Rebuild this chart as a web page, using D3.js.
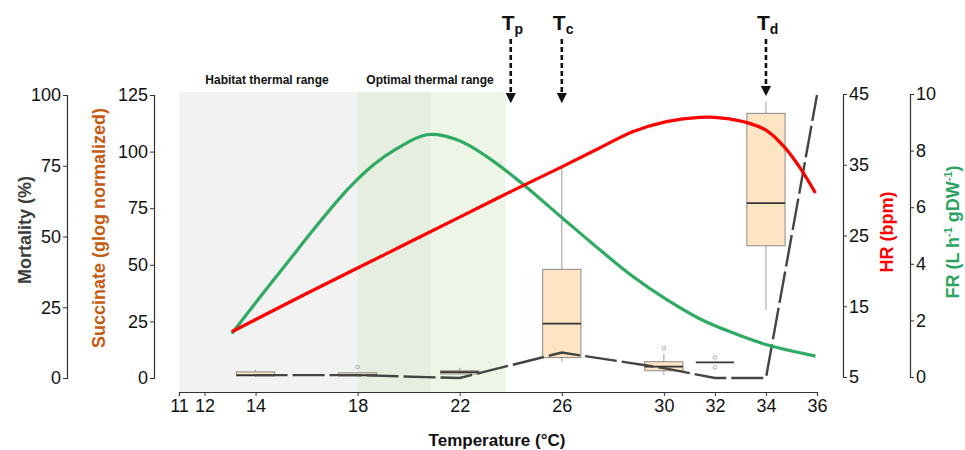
<!DOCTYPE html>
<html><head><meta charset="utf-8">
<script src="https://cdn.jsdelivr.net/npm/d3@7"></script>
<style>body{margin:0;background:#fff}svg{display:block;font-family:"Liberation Sans",Arial,sans-serif}</style>
</head><body>
<svg id="c" width="965" height="450"></svg>
<script>
// ---- data ----
const xTicks = [11,12,14,18,22,26,30,32,34,36];
const mortTicks = [0,25,50,75,100];
const succTicks = [0,25,50,75,100,125];
const hrTicks = [5,15,25,35,45];
const frTicks = [0,2,4,6,8,10];

const hrTemps = [13.07,16,19,22,24,26,27.5,28.8,30.1,31.4,32.3,33.26,34.04,34.7,35.35,35.94];
const hrValues = [11.4,16.8,22.2,27.6,31.2,34.7,37.4,39.7,41.1,41.7,41.6,40.95,39.8,37.6,34.5,31.0];

const frTemps = [13.07,14.2,15.22,16.4,17.6,18.6,19.5,20.71,21.9,23.06,24.36,26.02,27.5,28.8,30.1,31.4,32.7,34.06,35.94];
const frValues = [1.54,2.85,4.01,5.35,6.62,7.48,8.05,8.56,8.38,7.79,6.9,5.62,4.49,3.54,2.74,2.06,1.56,1.13,0.74];

const mortTemps = [14,18,22,26,30,32,34,36];
const mortValues = [1,1,0,9,3.5,0,0,100];

const boxTemps = [14,18,22,26,30,32,34];
const boxMin = [0.5,0.5,1.5,7.2,1.3,6.9,30];
const boxQ1  = [0.9,0.9,1.8,9.0,3.2,6.9,58.4];
const boxMed = [1.3,1.3,2.6,24,5.0,6.9,77.2];
const boxQ3  = [2.7,2.3,3.2,48,7.2,6.9,116.9];
const boxMax = [3.6,2.5,4.5,92.8,10.6,6.9,122];
const outlierTemps = [18,30,32,32];
const outlierValues = [4.9,13.1,9.1,4.7];

const habitatRange = [11,20.85];
const optimalRange = [18,23.8];
const markerTemps = [24,26,34];
const markerSubs = ["p","c","d"];

// ---- scales ----
const svg = d3.select("#c");
const x = d3.scaleLinear().domain([11,36]).range([179,817]);
const yMort = d3.scaleLinear().domain([0,100]).range([378,95]);
const ySucc = d3.scaleLinear().domain([0,125]).range([378,95]);
const yHR = d3.scaleLinear().domain([5,45]).range([377,94]);
const yFR = d3.scaleLinear().domain([0,10]).range([377,94]);
const bandTop = 92, axisY = 392;

// bands
svg.append("rect").attr("x",x(habitatRange[0])).attr("y",bandTop)
  .attr("width",x(habitatRange[1])-x(habitatRange[0])).attr("height",axisY-bandTop).attr("fill","#f2f2f2");
svg.append("rect").attr("x",x(optimalRange[0])).attr("y",bandTop)
  .attr("width",x(optimalRange[1])-x(optimalRange[0])).attr("height",axisY-bandTop).attr("fill","#d8ebc8").attr("opacity",0.45);

svg.append("text").attr("x",267).attr("y",84).attr("text-anchor","middle")
  .attr("font-size",12).attr("font-weight","bold").attr("fill","#111").text("Habitat thermal range");
svg.append("text").attr("x",430).attr("y",84).attr("text-anchor","middle")
  .attr("font-size",12).attr("font-weight","bold").attr("fill","#111").text("Optimal thermal range");

// axes
function styleAxis(g){
  g.selectAll("path.domain").attr("stroke","#333").attr("stroke-width",1.2);
  g.selectAll(".tick line").attr("stroke","#333");
  g.selectAll(".tick text").attr("font-size",18).attr("fill","#111").attr("font-family","'Liberation Sans',Arial,sans-serif");
}
svg.append("g").attr("transform","translate(0,"+axisY+")")
  .call(d3.axisBottom(x).tickValues(xTicks).tickSize(4).tickSizeOuter(4).tickPadding(3).tickFormat(d3.format("d")))
  .call(styleAxis);
svg.append("g").attr("transform","translate(67,0)")
  .call(d3.axisLeft(yMort).tickValues(mortTicks).tickSize(4).tickSizeOuter(4).tickPadding(2))
  .call(styleAxis);
svg.append("g").attr("transform","translate(154,0)")
  .call(d3.axisLeft(ySucc).tickValues(succTicks).tickSize(4).tickSizeOuter(4).tickPadding(2))
  .call(styleAxis);
svg.append("g").attr("transform","translate(843,0)")
  .call(d3.axisRight(yHR).tickValues(hrTicks).tickSize(4).tickSizeOuter(4).tickPadding(2))
  .call(styleAxis);
svg.append("g").attr("transform","translate(910,0)")
  .call(d3.axisRight(yFR).tickValues(frTicks).tickSize(4).tickSizeOuter(4).tickPadding(2))
  .call(styleAxis);

// axis titles
function vTitle(xp, yp, color){
  return svg.append("text").attr("transform","translate("+xp+","+yp+") rotate(-90)")
    .attr("text-anchor","middle").attr("font-size",18).attr("font-weight","bold").attr("fill",color);
}
vTitle(31,230,"#3b3b3b").text("Mortality (%)");
vTitle(105,228,"#c55a11").text("Succinate (glog normalized)");
vTitle(893,232,"#ff0000").text("HR (bpm)");
const fr = vTitle(959,232,"#2aa45e");
fr.append("tspan").text("FR (L h");
fr.append("tspan").attr("font-size",11).attr("dy",-7).text("-1");
fr.append("tspan").attr("dy",7).text(" gDW");
fr.append("tspan").attr("font-size",11).attr("dy",-7).text("-1");
fr.append("tspan").attr("dy",7).text(")");
svg.append("text").attr("x",497).attr("y",446).attr("text-anchor","middle")
  .attr("font-size",17).attr("font-weight","bold").attr("fill","#111").text("Temperature (°C)");

// boxplots
const bw = 0.75;
boxTemps.forEach((t,i)=>{
  const g = svg.append("g");
  g.append("line").attr("x1",x(t)).attr("x2",x(t)).attr("y1",ySucc(boxMin[i])).attr("y2",ySucc(boxMax[i]))
    .attr("stroke","#9a9a9a").attr("stroke-width",1);
  const top = ySucc(boxQ3[i]), bot = ySucc(boxQ1[i]);
  if (boxQ3[i] > boxQ1[i]) {
    g.append("rect").attr("x",x(t-bw)).attr("y",top).attr("width",x(t+bw)-x(t-bw)).attr("height",Math.max(bot-top,1))
      .attr("fill","#fde4c2").attr("stroke","#8a8a8a").attr("stroke-width",1);
  }
  g.append("line").attr("x1",x(t-bw)).attr("x2",x(t+bw)).attr("y1",ySucc(boxMed[i])).attr("y2",ySucc(boxMed[i]))
    .attr("stroke","#333").attr("stroke-width",1.8);
});
outlierTemps.forEach((t,i)=>{
  svg.append("circle").attr("cx",x(t)).attr("cy",ySucc(outlierValues[i])).attr("r",1.8)
    .attr("fill","none").attr("stroke","#aaa").attr("stroke-width",1);
});

// mortality line
svg.append("path").datum(mortTemps.map((t,i)=>[t,mortValues[i]]))
  .attr("d",d3.line().x(d=>x(d[0])).y(d=>yMort(d[1])))
  .attr("fill","none").attr("stroke","#444").attr("stroke-width",2.4).attr("stroke-dasharray","32,5");

// FR line
svg.append("path").datum(frTemps.map((t,i)=>[t,frValues[i]]))
  .attr("d",d3.line().curve(d3.curveCatmullRom.alpha(0.5)).x(d=>x(d[0])).y(d=>yFR(d[1])))
  .attr("fill","none").attr("stroke","#2faa62").attr("stroke-width",3.2);
// HR line
svg.append("path").datum(hrTemps.map((t,i)=>[t,hrValues[i]]))
  .attr("d",d3.line().curve(d3.curveCatmullRom.alpha(0.5)).x(d=>x(d[0])).y(d=>yHR(d[1])))
  .attr("fill","none").attr("stroke","#ff0000").attr("stroke-width",3.2);

// markers
const defs = svg.append("defs");
defs.append("marker").attr("id","ah").attr("viewBox","0 0 10 10").attr("refX",5).attr("refY",5)
  .attr("markerWidth",4).attr("markerHeight",4).attr("orient","auto")
  .append("path").attr("d","M0,0 L10,5 L0,10 z").attr("fill","#111");
markerTemps.forEach((t,i)=>{
  svg.append("line").attr("x1",x(t)).attr("x2",x(t)).attr("y1",39).attr("y2",i===2?91:98)
    .attr("stroke","#111").attr("stroke-width",2.6).attr("stroke-dasharray","5,3").attr("marker-end","url(#ah)");
  const tx = svg.append("text").attr("x",x(t)-9).attr("y",30).attr("font-size",21).attr("font-weight","bold").attr("fill","#111");
  tx.append("tspan").text("T");
  tx.append("tspan").attr("font-size",14).attr("dy",4).text(markerSubs[i]);
});
</script>
</body></html>
